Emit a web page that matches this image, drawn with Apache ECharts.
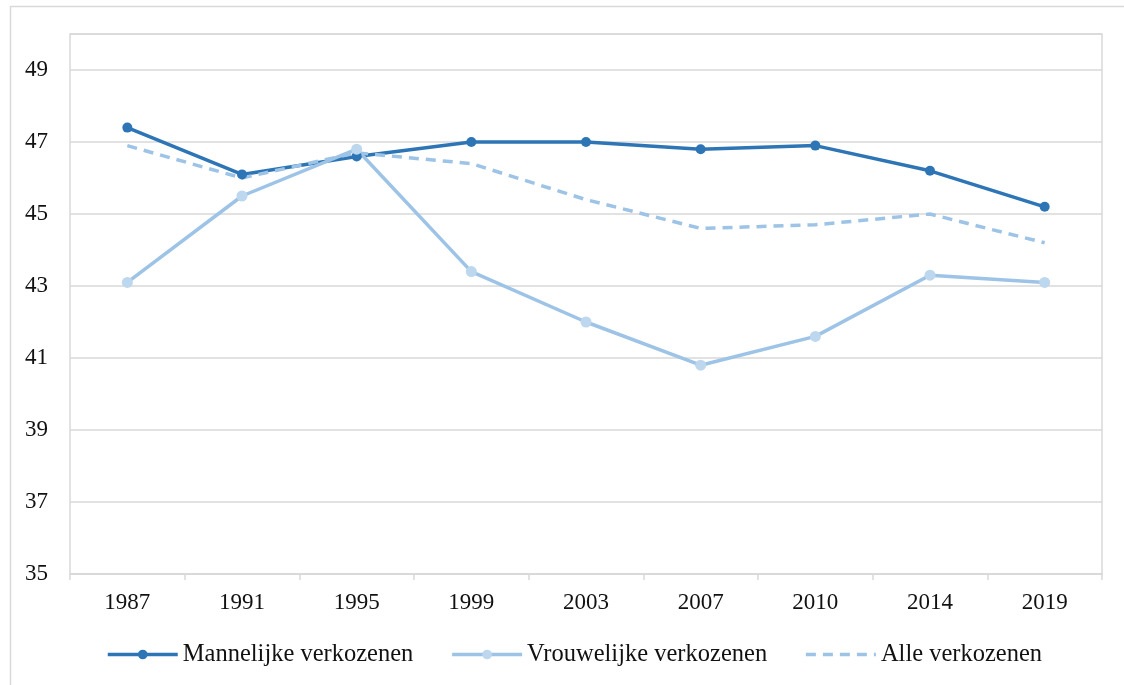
<!DOCTYPE html>
<html>
<head>
<meta charset="utf-8">
<script src="https://cdn.jsdelivr.net/npm/echarts@6/dist/echarts.min.js"></script>
<style>html,body{margin:0;padding:0;background:#fff}#c{width:1124px;height:685px}</style>
</head>
<body>
<div id="c"></div>
<script>
const categories = ['1987','1991','1995','1999','2003','2007','2010','2014','2019'];
const mannelijk = [47.4, 46.1, 46.6, 47.0, 47.0, 46.8, 46.9, 46.2, 45.2];
const vrouwelijk = [43.1, 45.5, 46.8, 43.4, 42.0, 40.8, 41.6, 43.3, 43.1];
const alle = [46.9, 46.0, 46.7, 46.4, 45.4, 44.6, 44.7, 45.0, 44.2];
const yTicks = [35, 37, 39, 41, 43, 45, 47, 49];
const yMin = 35, yMax = 50;

const chart = echarts.init(document.getElementById('c'), null, {renderer: 'canvas'});
const font = '"Liberation Serif", "Times New Roman", serif';
const gray = '#d9d9d9';
chart.setOption({
  animation: false,
  backgroundColor: '#fff',
  graphic: [{
    type: 'rect', left: 8, top: 4, shape: {width: 1140, height: 700},
    style: {fill: 'none', stroke: gray, lineWidth: 1.5}, silent: true
  }],
  grid: {left: 70, right: 22, top: 34, bottom: 111, show: true, borderColor: gray, borderWidth: 1.5, backgroundColor: 'transparent'},
  legend: {
    bottom: 13, left: 101, itemWidth: 70, itemHeight: 12, itemGap: 37,
    textStyle: {fontFamily: font, fontSize: 24.5, color: '#111'},
    data: [
      {name: 'Mannelijke verkozenen', lineStyle: {width: 3.5}},
      {name: 'Vrouwelijke verkozenen', lineStyle: {width: 3.5}},
      {name: 'Alle verkozenen', lineStyle: {width: 3.5}, itemStyle: {color: 'transparent', borderWidth: 0}}
    ]
  },
  xAxis: {
    type: 'category', data: categories, boundaryGap: true,
    axisLine: {lineStyle: {color: gray, width: 1.5}},
    axisTick: {show: true, length: 6, lineStyle: {color: gray, width: 1.5}},
    axisLabel: {fontFamily: font, fontSize: 23, color: '#111', margin: 17},
    splitLine: {show: false}
  },
  yAxis: [{
    type: 'value', min: yMin, max: yMax,
    axisLine: {show: false}, axisTick: {show: false},
    axisLabel: {show: false}, splitLine: {show: false}
  }, {
    type: 'value', min: 0, max: yMax - yMin, interval: 2, position: 'left',
    axisLine: {show: false}, axisTick: {show: false},
    axisLabel: {fontFamily: font, fontSize: 23, color: '#111', margin: 22, showMaxLabel: false,
      formatter: v => (yTicks[v / 2] !== undefined ? String(yTicks[v / 2]) : '')},
    splitLine: {lineStyle: {color: gray, width: 1.5}}
  }],
  series: [{
    name: 'Mannelijke verkozenen', type: 'line', data: mannelijk, yAxisIndex: 0,
    symbol: 'circle', symbolSize: 10, color: '#2e75b6',
    lineStyle: {width: 3.5, color: '#2e75b6'}, itemStyle: {color: '#2e75b6'}
  }, {
    name: 'Vrouwelijke verkozenen', type: 'line', data: vrouwelijk, yAxisIndex: 0,
    symbol: 'circle', symbolSize: 11, color: '#9dc3e6',
    lineStyle: {width: 3.5, color: '#9dc3e6'}, itemStyle: {color: '#bdd7ee'}
  }, {
    name: 'Alle verkozenen', type: 'line', data: alle, yAxisIndex: 0,
    symbol: 'none', showSymbol: false, color: '#9dc3e6',
    lineStyle: {width: 3.5, color: '#9dc3e6', type: [10, 7]}, itemStyle: {color: '#9dc3e6'}
  }]
});
</script>
</body>
</html>
